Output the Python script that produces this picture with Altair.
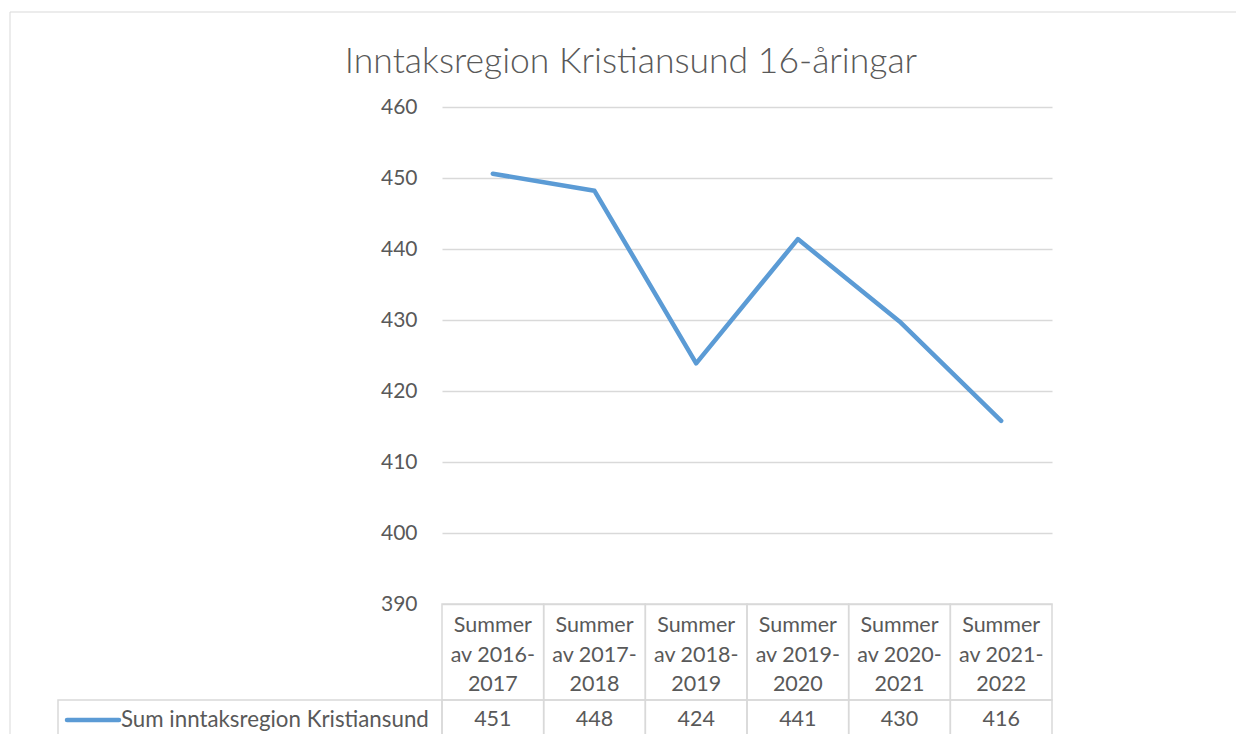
import altair as alt
import pandas as pd

categories = ["2016-2017", "2017-2018", "2018-2019", "2019-2020", "2020-2021", "2021-2022"]
header_labels = ["Summer\nav 2016-\n2017", "Summer\nav 2017-\n2018", "Summer\nav 2018-\n2019",
                 "Summer\nav 2019-\n2020", "Summer\nav 2020-\n2021", "Summer\nav 2021-\n2022"]
values = [450.6, 448.2, 423.9, 441.4, 429.8, 415.8]
series_name = "Sum inntaksregion Kristiansund"
title_text = "Inntaksregion Kristiansund 16-åringar"
y_ticks = [390, 400, 410, 420, 430, 440, 450, 460]

df = pd.DataFrame({"cat": categories, "header": header_labels, "value": values})

W, H = 610, 497
OX, OY = 442, 107  # plot-area origin in page pixels
FONT = "Lato"
TXT = "#595959"
GRID = "#d9d9d9"
BLUE = "#5b9bd5"
FS = 21.5

xenc = alt.X("cat:N", sort=categories,
             scale=alt.Scale(type="band", paddingInner=0, paddingOuter=0), axis=None)

one = pd.DataFrame({"a": [0]})

frame = alt.Chart(one).mark_rect(fill="white", fillOpacity=0, stroke=GRID, strokeWidth=1).encode(
    x=alt.value(10 - OX), x2=alt.value(1270 - OX),
    y=alt.value(12 - OY), y2=alt.value(760 - OY))

line = alt.Chart(df).mark_line(color=BLUE, strokeWidth=4.5, strokeCap="round",
                               strokeJoin="round").encode(
    x=xenc,
    y=alt.Y("value:Q", scale=alt.Scale(domain=[390, 460], nice=False, zero=False),
            axis=alt.Axis(values=y_ticks, title=None, domain=False, ticks=False,
                          labelFont=FONT, labelFontSize=21, labelColor=TXT,
                          labelPadding=25, grid=True, gridColor=GRID, gridWidth=1.5)))

title = alt.Chart(one).mark_text(text=title_text, font=FONT, fontSize=35.5, fontWeight=300,
                                 color=TXT, align="center", baseline="middle").encode(
    x=alt.value(631 - OX), y=alt.value(62 - OY))

header_cells = alt.Chart(df).mark_rect(fill="white", fillOpacity=0, stroke=GRID,
                                       strokeWidth=1.5).encode(
    x=xenc, y=alt.value(H), y2=alt.value(700 - OY))
value_cells = alt.Chart(df).mark_rect(fill="white", fillOpacity=0, stroke=GRID,
                                      strokeWidth=1.5).encode(
    x=xenc, y=alt.value(700 - OY), y2=alt.value(760 - OY))
legend_cell = alt.Chart(one).mark_rect(fill="white", fillOpacity=0, stroke=GRID,
                                       strokeWidth=1.5).encode(
    x=alt.value(58 - OX), x2=alt.value(0), y=alt.value(700 - OY), y2=alt.value(760 - OY))

header_text = alt.Chart(df).mark_text(font=FONT, fontSize=FS, color=TXT, lineBreak="\n",
                                      lineHeight=29.5, align="center",
                                      baseline="middle").encode(
    x=xenc, y=alt.value(626 - OY), text="header:N")
value_text = alt.Chart(df).mark_text(font=FONT, fontSize=FS, color=TXT, align="center",
                                     baseline="middle").encode(
    x=xenc, y=alt.value(720 - OY), text=alt.Text("value:Q", format=".0f"))

legend_line = alt.Chart(one).mark_rule(color=BLUE, strokeWidth=4.5, strokeCap="round").encode(
    x=alt.value(67 - OX), x2=alt.value(119 - OX), y=alt.value(720 - OY))
legend_text = alt.Chart(one).mark_text(text=series_name, font=FONT, fontSize=22.3, color=TXT,
                                       align="left", baseline="middle").encode(
    x=alt.value(121 - OX), y=alt.value(720 - OY))

chart = alt.layer(frame, header_cells, value_cells, legend_cell, line, title,
                  header_text, value_text, legend_line, legend_text).properties(
    width=W, height=H,
    autosize=alt.AutoSizeParams(type="none"),
    padding={"left": OX - 8, "top": OY - 8, "right": 1244 - 16 - (OX - 8) - W,
             "bottom": 734 - 16 - (OY - 8) - H + 40},
).configure_view(stroke=None)

chart.save("out.html", embed_options={"renderer": "svg", "actions": False})
